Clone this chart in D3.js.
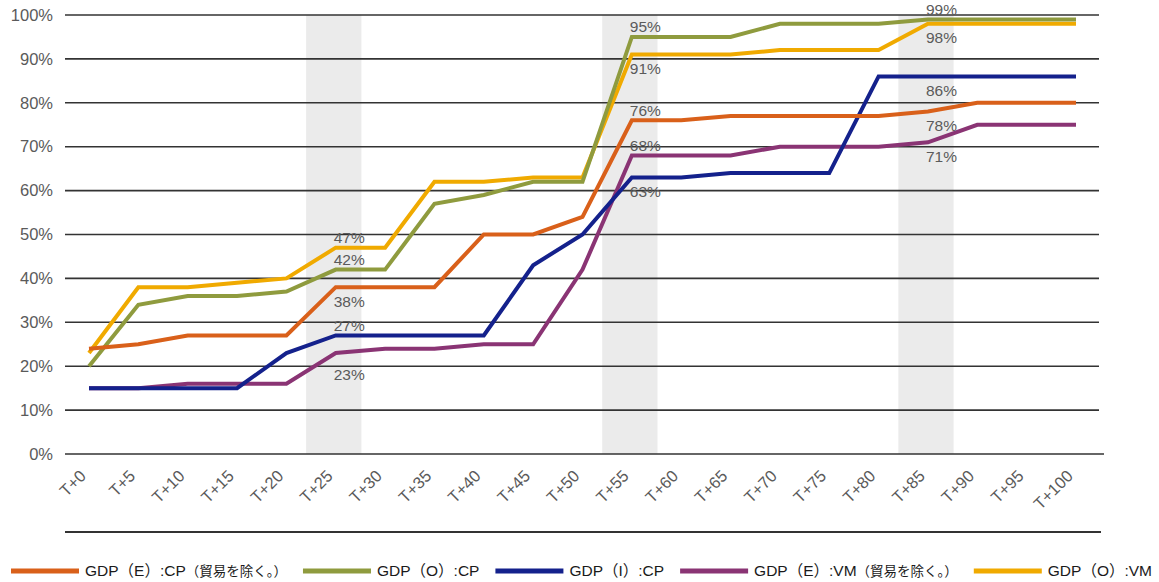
<!DOCTYPE html>
<html>
<head>
<meta charset="utf-8">
<script src="https://cdn.jsdelivr.net/npm/d3@7/dist/d3.min.js"></script>
<style>
  html, body { margin: 0; padding: 0; background: #fff; }
  svg { display: block; font-family: "Liberation Sans", Arial, "Noto Sans CJK JP", sans-serif; }
</style>
</head>
<body>
<svg id="chart" width="1159" height="582"></svg>
<script>
// Time steps after the shock
const categories = ["T+0","T+5","T+10","T+15","T+20","T+25","T+30","T+35","T+40","T+45","T+50",
                    "T+55","T+60","T+65","T+70","T+75","T+80","T+85","T+90","T+95","T+100"];

// Cumulative share (%) per series
const gdpE_CP = [24,25,27,27,27,38,38,38,50,50,54,76,76,77,77,77,77,78,80,80,80];
const gdpO_CP = [20,34,36,36,37,42,42,57,59,62,62,95,95,95,98,98,98,99,99,99,99];
const gdpI_CP = [15,15,15,15,23,27,27,27,27,43,50,63,63,64,64,64,86,86,86,86,86];
const gdpE_VM = [15,15,16,16,16,23,24,24,25,25,42,68,68,68,70,70,70,71,75,75,75];
const gdpO_VM = [23,38,38,39,40,47,47,62,62,63,63,91,91,91,92,92,92,98,98,98,98];

const seriesNames = ["GDP（E）:CP（貿易を除く。）", "GDP（O）:CP", "GDP（I）:CP", "GDP（E）:VM（貿易を除く。）", "GDP（O）:VM"];
const seriesValues = [gdpE_CP, gdpO_CP, gdpI_CP, gdpE_VM, gdpO_VM];
const seriesColors = ["#D9601A", "#8F9B3E", "#14218C", "#8A3474", "#F0AA00"];

// Highlighted periods
const shadedSteps = ["T+25", "T+55", "T+85"];

// Value call-outs: [series index, step, side]
const callouts = [
  [4, "T+25", "above"], [1, "T+25", "above"], [0, "T+25", "below"], [2, "T+25", "above"], [3, "T+25", "under"],
  [1, "T+55", "above"], [4, "T+55", "below"], [0, "T+55", "above"], [3, "T+55", "above"], [2, "T+55", "below"],
  [1, "T+85", "above"], [4, "T+85", "below"], [2, "T+85", "below"], [0, "T+85", "below"], [3, "T+85", "below"]
];

const yTicks = [0,10,20,30,40,50,60,70,80,90,100];

const svg = d3.select("#chart");

const x = d3.scalePoint().domain(categories).range([89, 1076]);
const y = d3.scaleLinear().domain([0, 100]).range([454, 15]);
const step = x.step();
const gridLeft = 65, gridRight = 1099;

// shaded periods
svg.append("g").selectAll("rect")
  .data(shadedSteps)
  .join("rect")
  .attr("x", d => x(d) - step * 0.6)
  .attr("width", step * 1.12)
  .attr("y", y(100))
  .attr("height", y(0) - y(100))
  .attr("fill", "#EBEBEB");

// horizontal grid
svg.append("g").selectAll("line")
  .data(yTicks)
  .join("line")
  .attr("x1", gridLeft)
  .attr("x2", d => d === 0 ? gridRight + 5 : gridRight)
  .attr("y1", d => y(d))
  .attr("y2", d => y(d))
  .attr("stroke", "#333")
  .attr("stroke-width", 1.6);

// lower frame line under the step labels
svg.append("line")
  .attr("x1", gridLeft).attr("x2", gridRight + 2)
  .attr("y1", 532).attr("y2", 532)
  .attr("stroke", "#333").attr("stroke-width", 1.8);

// y axis labels
const yAxis = d3.axisLeft(y).tickValues(yTicks).tickFormat(d => d + "%").tickSize(0).tickPadding(0);
const gy = svg.append("g").attr("transform", "translate(53,0)").call(yAxis);
gy.select(".domain").remove();
gy.selectAll("text")
  .attr("font-size", 16.5)
  .attr("font-family", "Liberation Sans, Arial, sans-serif")
  .attr("fill", "#5a5a5a");

// x axis labels, rotated
const xAxis = d3.axisBottom(x).tickSize(0).tickPadding(0);
const gx = svg.append("g").attr("transform", "translate(0,0)").call(xAxis);
gx.select(".domain").remove();
gx.selectAll(".tick").attr("transform", d => `translate(${x(d) - 2},477)`);
gx.selectAll("text")
  .attr("font-size", 16.5)
  .attr("font-family", "Liberation Sans, Arial, sans-serif")
  .attr("fill", "#5a5a5a")
  .attr("y", 0).attr("dy", 0)
  .attr("text-anchor", "end")
  .attr("transform", "rotate(-45)");

// series lines, later series underneath
const line = d3.line()
  .x((d, i) => x(categories[i]))
  .y(d => y(d));

const order = d3.range(seriesValues.length).reverse();
svg.append("g").selectAll("path")
  .data(order)
  .join("path")
  .attr("d", i => line(seriesValues[i]))
  .attr("fill", "none")
  .attr("stroke", i => seriesColors[i])
  .attr("stroke-width", 4)
  .attr("stroke-linejoin", "miter");

// value call-outs
const sideOffset = { above: -10, below: 14, under: 22 };
svg.append("g").selectAll("text")
  .data(callouts)
  .join("text")
  .attr("x", d => x(d[1]) - 2)
  .attr("y", d => y(seriesValues[d[0]][categories.indexOf(d[1])]) + sideOffset[d[2]])
  .attr("dy", "0.35em")
  .attr("font-size", 15.5)
  .attr("fill", "#5a5a5a")
  .text(d => seriesValues[d[0]][categories.indexOf(d[1])] + "%");

// legend, spread across the full width
const legend = svg.append("g").attr("transform", "translate(0,571)");
const swatchW = 68, swatchGap = 6;
const items = legend.selectAll("g")
  .data(seriesNames)
  .join("g");
items.append("line")
  .attr("x1", 0).attr("x2", swatchW)
  .attr("y1", 0).attr("y2", 0)
  .attr("stroke", (d, i) => seriesColors[i])
  .attr("stroke-width", 5);
const labels = items.append("text")
  .attr("x", swatchW + swatchGap)
  .attr("dy", "0.35em")
  .attr("font-size", 15.5)
  .attr("fill", "#1a1a1a");
labels.each(function(d) {
  const m = d.match(/^(GDP（.）:(?:CP|VM))(.*)$/);
  const t = d3.select(this);
  t.append("tspan").text(m[1]);
  if (m[2]) t.append("tspan").attr("font-size", 13.5).text(m[2]);
});
const widths = [];
labels.each(function() { widths.push(swatchW + swatchGap + this.getComputedTextLength()); });
const legLeft = 11, legRight = 1152;
const gap = (legRight - legLeft - d3.sum(widths)) / (widths.length - 1);
let cx = legLeft;
items.attr("transform", (d, i) => {
  const tx = cx;
  cx += widths[i] + gap;
  return `translate(${tx},0)`;
});
</script>
</body>
</html>
